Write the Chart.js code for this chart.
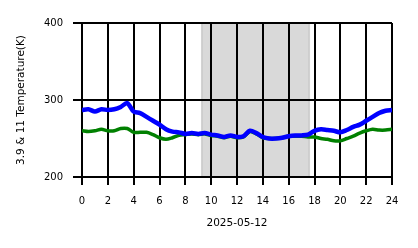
<!DOCTYPE html>
<html>
<head>
<meta charset="utf-8">
<script src="https://cdn.jsdelivr.net/npm/chart.js@4.4.1/dist/chart.umd.min.js"></script>
<style>
html,body{margin:0;padding:0;background:#fff;}
#wrap{width:418px;height:248px;}
</style>
</head>
<body>
<div id="wrap"><canvas id="c" width="418" height="248"></canvas></div>
<script>
const hours = [0,0.5,1,1.5,2,2.5,3,3.5,4,4.5,5,5.5,6,6.5,7,7.5,8,8.5,9,9.5,10,10.5,11,11.5,12,12.5,13,13.5,14,14.5,15,15.5,16,16.5,17,17.5,18,18.5,19,19.5,20,20.5,21,21.5,22,22.5,23,23.5,24];
const temp39 = [287,288,285,288,287,288,291,296,285,283,278,273,268,262,259,258,256,257,256,257,255,254,252,254,252,253,260,257,252,250,250,251,253,254,254,255,260,262,261,260,258,261,265,268,273,278,283,286,287];
const temp11 = [260,259,260,262,260,260,263,263,258,258,258,255,251,249,251,254,255,256,255,256,254,253,251,253,251,252,259,256,251,250,250,251,253,253,253,252,252,250,249,247,247,250,253,257,260,262,261,261,262];
const xTicks = [0,2,4,6,8,10,12,14,16,18,20,22,24];
const yTicks = [200,300,400];
const shadeStart = 9.27;
const shadeEnd = 17.6;
const dateLabel = '2025-05-12';
const yTitle = '3.9 & 11 Temperature(K)';

const toPts = (arr) => arr.map((v,i)=>({x:hours[i], y:v}));

const shadePlugin = {
  id:'shade',
  beforeDraw(chart){
    const {ctx, chartArea, scales} = chart;
    const x0 = scales.x.getPixelForValue(shadeStart);
    const x1 = scales.x.getPixelForValue(shadeEnd);
    ctx.save();
    ctx.fillStyle = 'rgba(128,128,128,0.3)';
    ctx.fillRect(x0, chartArea.top, x1-x0, chartArea.bottom-chartArea.top);
    ctx.strokeStyle = 'rgba(128,128,128,0.3)';
    ctx.lineWidth = 1.5;
    ctx.strokeRect(x0, chartArea.top, x1-x0, chartArea.bottom-chartArea.top);
    ctx.restore();
  }
};

const font = {family:'DejaVu Sans', size:10};
const titleFont = {family:'DejaVu Sans', size:10.5};

new Chart(document.getElementById('c'), {
  type:'line',
  data:{
    datasets:[
      {label:'3.9', data:toPts(temp39), borderColor:'#0000ff', backgroundColor:'#0000ff', borderWidth:4.5, pointRadius:0, tension:0.3, fill:false},
      {label:'11', data:toPts(temp11), borderColor:'#008000', backgroundColor:'#008000', borderWidth:3.5, pointRadius:0, tension:0.3, fill:false}
    ]
  },
  options:{
    responsive:false,
    animation:false,
    events:[],
    layout:{padding:{left:0, right:26, top:23, bottom:0}},
    plugins:{legend:{display:false}, tooltip:{enabled:false}},
    scales:{
      x:{
        type:'linear', min:0, max:24,
        afterBuildTicks(s){ s.ticks = xTicks.map(v=>({value:v})); },
        afterFit(s){ s.height = 71; },
        grid:{color:'#000', lineWidth:2, tickLength:8, drawTicks:true},
        border:{display:false},
        ticks:{color:'#000', font, padding:10, maxRotation:0, autoSkip:false},
        title:{display:true, text:dateLabel, color:'#000', font:titleFont, padding:{top:4, bottom:18}}
      },
      y:{
        type:'linear', min:200, max:400,
        afterBuildTicks(s){ s.ticks = yTicks.map(v=>({value:v})); },
        afterFit(s){ s.width = 82; },
        grid:{color:'#000', lineWidth:2, tickLength:9, drawTicks:true},
        border:{display:false},
        ticks:{color:'#000', font, padding:10},
        title:{display:true, text:yTitle, color:'#000', font:titleFont, padding:{top:15}}
      }
    }
  },
  plugins:[shadePlugin]
});
</script>
</body>
</html>
